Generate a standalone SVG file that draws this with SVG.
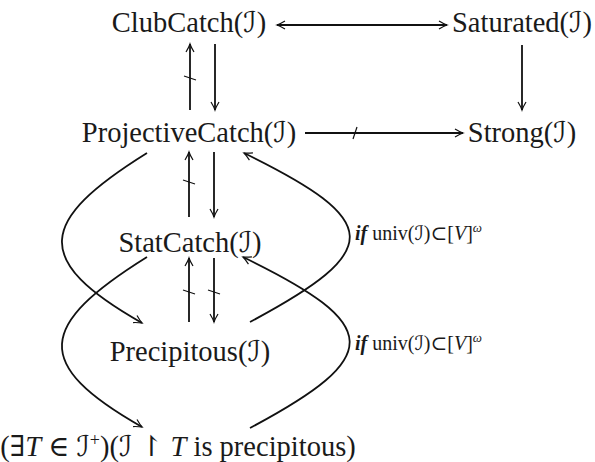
<svg xmlns="http://www.w3.org/2000/svg" width="595" height="462" viewBox="0 0 595 462">
<style>
.n{font-family:"Liberation Serif","DejaVu Serif",serif;font-size:28.5px;fill:#1a1a1a}
.l{font-family:"Liberation Serif","DejaVu Serif",serif;font-size:20px;fill:#1a1a1a}
.c{font-family:"DejaVu Serif","DejaVu Sans",serif}
.e{fill:none;stroke:#111;stroke-width:1.8}
.s{fill:none;stroke:#111;stroke-width:1.2}
</style>
<defs>
<marker id="ah" viewBox="-10 -6 12 12" markerWidth="12" markerHeight="12" refX="0" refY="0" orient="auto-start-reverse" markerUnits="userSpaceOnUse">
<path d="M-8,-4 Q-3,-1 0,0 Q-3,1 -8,4" fill="none" stroke="#111" stroke-width="1.2"/>
</marker>
</defs>
<g id="connectors">
<path class="e" d="M277,25 H447" marker-start="url(#ah)" marker-end="url(#ah)"/>
<path class="e" d="M522,45 V110" marker-end="url(#ah)"/>
<path class="e" d="M305,133 H463" marker-end="url(#ah)"/>
<path class="s" d="M353,139 L357,127"/>
<path class="e" d="M190,110 V44" marker-end="url(#ah)"/>
<path class="s" d="M184,76 L196,80"/>
<path class="e" d="M215,44 V110" marker-end="url(#ah)"/>
<path class="e" d="M189,217 V152" marker-end="url(#ah)"/>
<path class="s" d="M183,180 L195,184"/>
<path class="e" d="M214,152 V217" marker-end="url(#ah)"/>
<path class="e" d="M189,322 V258" marker-end="url(#ah)"/>
<path class="s" d="M183,290 L195,294"/>
<path class="e" d="M214,258 V322" marker-end="url(#ah)"/>
<path class="s" d="M208,290 L220,294"/>
<path class="e" d="M147,153 C38,221 31,260 142,323" marker-end="url(#ah)"/>
<path class="e" d="M147,257 C38,325 31,364 142,427" marker-end="url(#ah)"/>
<path class="e" d="M250,322 C385,250 383,221 244,153" marker-end="url(#ah)"/>
<path class="e" d="M250,428 C385,356 383,325 243,257" marker-end="url(#ah)"/>
</g>
<g id="clubcatch"><text class="n" x="189" y="32" text-anchor="middle">ClubCatch(<tspan class="c">ℐ</tspan>)</text></g>
<g id="saturated"><text class="n" x="522" y="32" text-anchor="middle">Saturated(<tspan class="c">ℐ</tspan>)</text></g>
<g id="projectivecatch"><text class="n" x="189" y="142" text-anchor="middle">ProjectiveCatch(<tspan class="c">ℐ</tspan>)</text></g>
<g id="strong"><text class="n" x="522" y="142" text-anchor="middle">Strong(<tspan class="c">ℐ</tspan>)</text></g>
<g id="statcatch"><text class="n" x="190" y="252" text-anchor="middle">StatCatch(<tspan class="c">ℐ</tspan>)</text></g>
<g id="precipitous"><text class="n" x="190" y="361" text-anchor="middle">Precipitous(<tspan class="c">ℐ</tspan>)</text></g>
<g id="bottom"><text class="n" x="178" y="456" text-anchor="middle">(<tspan class="c">∃</tspan><tspan font-style="italic">T</tspan> <tspan class="c">∈</tspan> <tspan class="c">ℐ</tspan><tspan dy="-10" font-size="18">+</tspan><tspan dy="10">)(</tspan><tspan class="c">ℐ</tspan> <tspan class="c">↾</tspan> <tspan font-style="italic">T</tspan> is precipitous)</text></g>
<g id="label1"><text class="l" x="355" y="240"><tspan font-weight="bold" font-style="italic">if</tspan> univ(<tspan class="c">ℐ</tspan>)<tspan class="c">⊂</tspan>[<tspan font-style="italic">V</tspan>]<tspan dy="-8" font-size="13" font-style="italic">ω</tspan></text></g>
<g id="label2"><text class="l" x="355" y="350"><tspan font-weight="bold" font-style="italic">if</tspan> univ(<tspan class="c">ℐ</tspan>)<tspan class="c">⊂</tspan>[<tspan font-style="italic">V</tspan>]<tspan dy="-8" font-size="13" font-style="italic">ω</tspan></text></g>
</svg>
